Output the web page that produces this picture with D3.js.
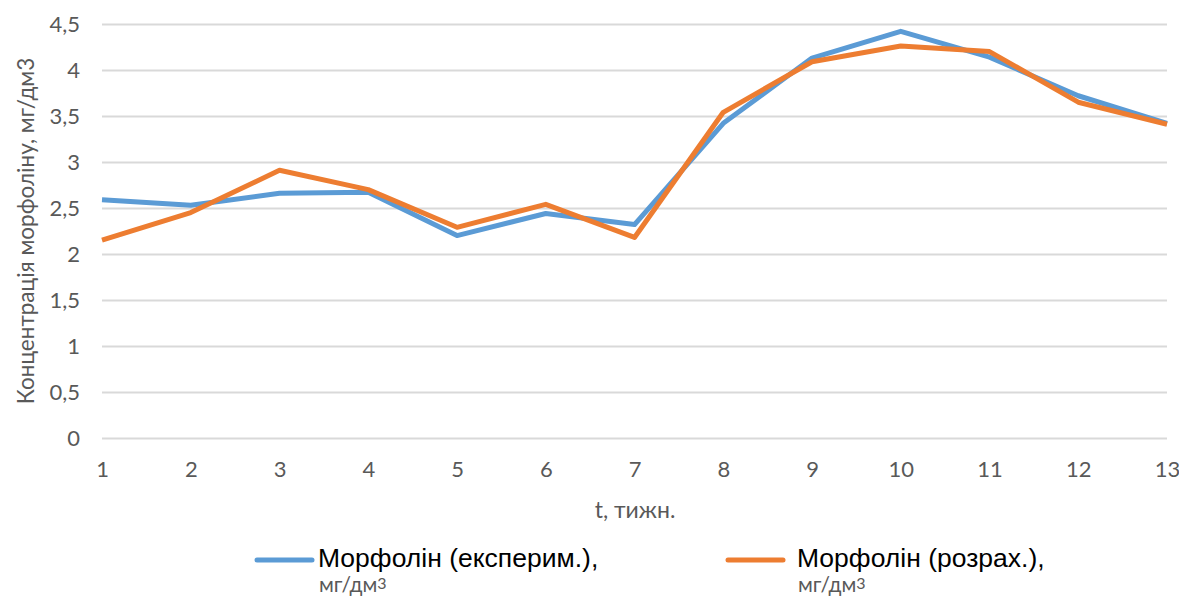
<!DOCTYPE html>
<html><head><meta charset="utf-8">
<script src="https://cdn.jsdelivr.net/npm/d3@7"></script>
<style>body{margin:0;background:#fff;} svg{display:block;}</style>
</head><body>
<svg id="c" width="1179" height="597"></svg>
<script>
const weeks = [1,2,3,4,5,6,7,8,9,10,11,12,13];
const experimental = [2.59,2.53,2.66,2.67,2.20,2.44,2.32,3.42,4.13,4.42,4.14,3.72,3.42];
const calculated = [2.15,2.45,2.91,2.70,2.29,2.54,2.18,3.54,4.09,4.26,4.20,3.65,3.41];
const yTicks = [0,0.5,1,1.5,2,2.5,3,3.5,4,4.5];
const seriesNames = ["Морфолін (експерим.),", "Морфолін (розрах.),"];
const colors = ["#5B9BD5", "#ED7D31"];

(function(){
const svg = d3.select("#c");
const pL = 102, pR = 1167, pT = 24, pB = 438;
const x = d3.scaleLinear().domain([1,13]).range([pL,pR]);
const y = d3.scaleLinear().domain([0,4.5]).range([pB,pT]);
const fmt = d => String(d).replace(".", ",");
const tickFont = "Lato, 'Open Sans', sans-serif";

const yAxis = d3.axisLeft(y).tickValues(yTicks).tickSize(-(pR-pL)).tickFormat(fmt).tickPadding(22);
const ga = svg.append("g").attr("transform",`translate(${pL},0)`).call(yAxis);
ga.select(".domain").remove();
ga.selectAll(".tick line").attr("stroke","#d9d9d9").attr("stroke-width",2);
ga.selectAll(".tick text").attr("fill","#595959").style("font-family",tickFont).style("font-size","22px");

const xAxis = d3.axisBottom(x).tickValues(weeks).tickSize(0).tickPadding(23).tickFormat(d3.format("d"));
const gx = svg.append("g").attr("transform",`translate(0,${pB})`).call(xAxis);
gx.select(".domain").remove();
gx.selectAll(".tick text").attr("fill","#595959").style("font-family",tickFont).style("font-size","22px");

svg.append("text").attr("x",635).attr("y",518).attr("text-anchor","middle")
  .attr("fill","#595959").style("font-family",tickFont).style("font-size","23px").text("t, тижн.");
svg.append("text").attr("transform",`translate(34,231) rotate(-90)`).attr("text-anchor","middle")
  .attr("fill","#595959").style("font-family",tickFont).style("font-size","22.5px").text("Концентрація морфоліну, мг/дм3");

const line = d3.line().x((d,i)=>x(weeks[i])).y(d=>y(d));
[experimental, calculated].forEach((s,k)=>{
  svg.append("path").datum(s).attr("d",line).attr("fill","none")
    .attr("stroke",colors[k]).attr("stroke-width",5).attr("stroke-linejoin","round");
});

const legLine = [257, 728];
const legText = [318, 797];
seriesNames.forEach((n,k)=>{
  const g = svg.append("g");
  g.append("line").attr("x1",legLine[k]).attr("x2",legLine[k]+55).attr("y1",560).attr("y2",560)
    .attr("stroke",colors[k]).attr("stroke-width",5).attr("stroke-linecap","round");
  g.append("text").attr("x",legText[k]).attr("y",567).attr("fill","#000")
    .style("font-family","'Liberation Sans', Arial, sans-serif").style("font-size","26.5px").text(n);
  const t2 = g.append("text").attr("x",legText[k]+1).attr("y",592).attr("fill","#595959")
    .style("font-family",tickFont).style("font-size","21px");
  t2.append("tspan").text("мг/дм");
  t2.append("tspan").attr("dy",-3).style("font-size","16px").text("3");
});
})();
</script>
</body></html>
